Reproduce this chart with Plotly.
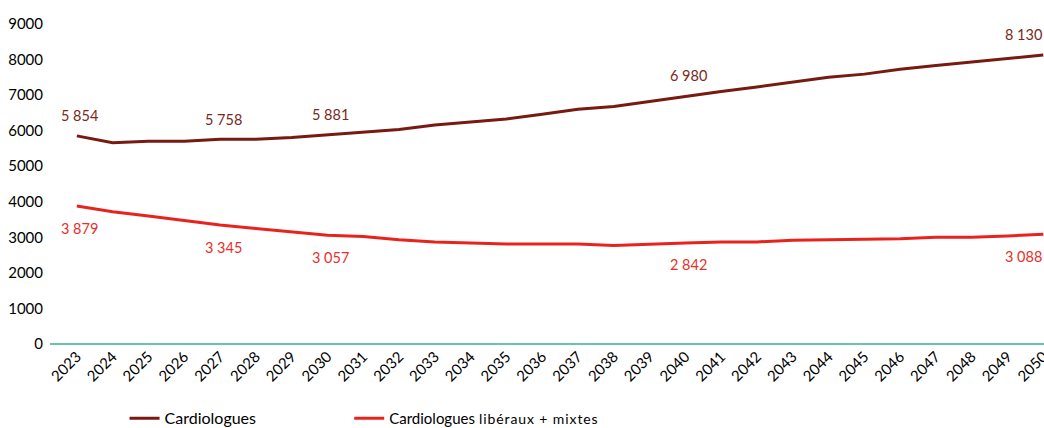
import plotly.graph_objects as go

years = list(range(2023, 2051))
cardiologues = [5854, 5660, 5700, 5700, 5758, 5760, 5810, 5881, 5970, 6030, 6160, 6240, 6330, 6460,
                6600, 6680, 6820, 6980, 7100, 7230, 7370, 7500, 7590, 7730, 7830, 7930, 8020, 8130]
liberaux = [3879, 3720, 3600, 3470, 3345, 3250, 3150, 3057, 3020, 2930, 2870, 2830, 2810, 2810,
            2810, 2770, 2815, 2842, 2870, 2870, 2920, 2930, 2960, 2960, 3000, 3000, 3040, 3088]
label_years = [2023, 2027, 2030, 2040, 2050]
y_ticks = list(range(0, 10000, 1000))

C1 = "#771A10"
C2 = "#E8231E"
FONT = "Lato"

fig = go.Figure()
fig.add_trace(go.Scatter(x=years, y=cardiologues, mode="lines", name="Cardiologues",
                         line=dict(color=C1, width=3), legend="legend", showlegend=True))
fig.add_trace(go.Scatter(x=years, y=liberaux, mode="lines",
                         name="<span style='font-size:15px'>Cardiologues</span> "
                              "<span style='font-size:14px;letter-spacing:0.9px'>libéraux + mixtes</span>",
                         line=dict(color=C2, width=3), legend="legend2", showlegend=True))

def fmt(v):
    return f"{v:,}".replace(",", " ")

for yr in label_years:
    i = years.index(yr)
    xs = -20 if yr == years[-1] else 3
    fig.add_annotation(x=yr, y=cardiologues[i], text=fmt(cardiologues[i]), showarrow=False,
                       yshift=20, xshift=xs, font=dict(family=FONT, size=14.5, color="#772A1E"))
    fig.add_annotation(x=yr, y=liberaux[i], text=fmt(liberaux[i]), showarrow=False,
                       yshift=-22, xshift=xs, font=dict(family=FONT, size=14.5, color="#E8302A"))

fig.update_layout(
    width=1044, height=428,
    margin=dict(l=50, r=0, t=24, b=84, autoexpand=False),
    paper_bgcolor="white", plot_bgcolor="white",
    showlegend=True,
    font=dict(family=FONT, size=15, color="#000000"),
    xaxis=dict(range=[2022.25, 2050.02], tickmode="array", tickvals=years,
               ticktext=[str(y) for y in years], tickangle=-45, showgrid=False,
               zeroline=False, showline=False, ticks="", tickfont=dict(size=15),
               automargin=False, ticklabeloverflow="allow"),
    yaxis=dict(range=[0, 9000], tickvals=y_ticks, showgrid=False, showline=False,
               zeroline=True, zerolinecolor="#66C6A9", zerolinewidth=2,
               ticks="outside", ticklen=3, tickcolor="rgba(0,0,0,0)", tickfont=dict(size=15),
               automargin=False),
    legend=dict(x=0.075, y=-0.232, xanchor="left", yanchor="middle", orientation="h",
                font=dict(size=16, family=FONT), bgcolor="rgba(0,0,0,0)"),
    legend2=dict(x=0.301, y=-0.232, xanchor="left", yanchor="middle", orientation="h",
                 font=dict(size=16, family=FONT), bgcolor="rgba(0,0,0,0)"),
)

fig.write_html("out.html", config={"displayModeBar": False},
               post_script="document.body.style.margin='0';document.body.style.overflow='hidden';")
